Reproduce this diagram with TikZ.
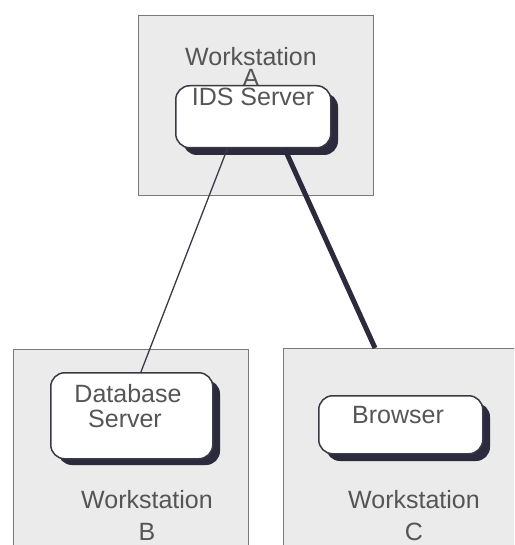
\documentclass[tikz,border=0pt]{standalone}
\usepackage{fontspec}
\setmainfont{Liberation Sans}
\usetikzlibrary{calc}
\definecolor{wsfill}{HTML}{EBEBEB}
\definecolor{wsline}{HTML}{7A7A7A}
\definecolor{shadowc}{HTML}{2B2B3D}
\definecolor{appline}{HTML}{3A3A46}
\definecolor{txt}{HTML}{555555}
\begin{document}
\begin{tikzpicture}[x=1pt,y=-1pt,
  wsbox/.style={draw=wsline, line width=1.4pt, fill=wsfill, inner sep=0pt, anchor=north west},
  appbox/.style={draw=appline, line width=1.5pt, fill=white, rounded corners=14pt, inner sep=0pt, anchor=north west},
  appshadow/.style={fill=shadowc, rounded corners=14pt},
  lbl/.style={text=txt, font=\fontsize{25}{28}\selectfont, inner sep=0pt, anchor=base},
  wslbl/.style={text=txt, inner sep=0pt, anchor=north, align=center},
  thinlink/.style={draw=appline, line width=1.3pt},
  thicklink/.style={draw=shadowc, line width=5pt}
]
\useasboundingbox (0,0) rectangle (514,545);
\clip (0,0) rectangle (514,545);
\fill[white] (0,0) rectangle (514,545);

% workstation areas
\node[wsbox, minimum width=235pt, minimum height=180pt] (wsA) at (138,15) {};
\node[wsbox, minimum width=235pt, minimum height=220pt] (wsB) at (13,349) {};
\node[wsbox, minimum width=260pt, minimum height=220pt] (wsC) at (283,348) {};

% workstation labels
\node[wslbl, font=\fontsize{25}{21}\selectfont] (wsAt) at (251,47) {Workstation\\A};
\node[wslbl, font=\fontsize{25}{32}\selectfont] (wsBt) at (147,490) {Workstation\\B};
\node[wslbl, font=\fontsize{25}{32}\selectfont] (wsCt) at (414,490) {Workstation\\C};

% shadows
\fill[appshadow] (183,93) rectangle (338,155);
\fill[appshadow] (58,380) rectangle (220,465);
\fill[appshadow] (326,403) rectangle (490,461);

% application boxes
\node[appbox, minimum width=155pt, minimum height=62pt] (ids) at (175,85) {};
\node[appbox, minimum width=162pt, minimum height=86pt] (db) at (50,372) {};
\node[appbox, minimum width=164pt, minimum height=58pt] (br) at (318,395) {};

% connectors
\draw[thinlink] ($(ids.south west)!0.335!(ids.south east)$) -- ($(db.north west)!0.556!(db.north east)$);
\draw[thicklink] ($(ids.south west)!0.70!(ids.south east)$) -- ($(wsC.north west)+(92,0)$);

% application labels
\node[lbl] (idst) at (253,106) {IDS Server};
\node[lbl] (dbt1) at (128,402) {Database};
\node[lbl] (dbt2) at (125,427) {Server};
\node[lbl] (brt) at (398,423) {Browser};
\end{tikzpicture}
\end{document}
